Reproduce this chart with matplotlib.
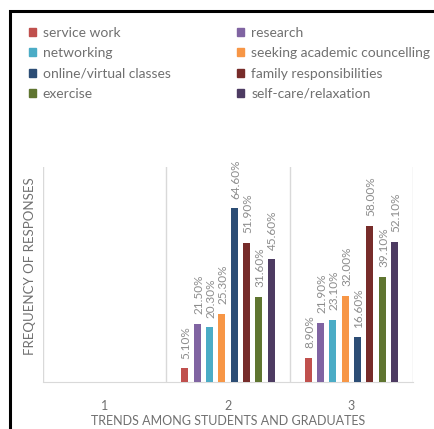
import matplotlib.pyplot as plt
from matplotlib.patches import Rectangle, Patch
import numpy as np

plt.rcParams['font.family'] = ['Lato', 'DejaVu Sans']

groups = ['1', '2', '3']
series = ['service work', 'research', 'networking', 'seeking academic councelling',
          'online/virtual classes', 'family responsibilities', 'exercise', 'self-care/relaxation']
colors = ['#C0504D', '#8064A2', '#4BACC6', '#F79646',
          '#2C4D75', '#772C2A', '#5F7530', '#4D3B62']
# values per series for groups 2 and 3 (group 1 empty)
values_g2 = [5.1, 21.5, 20.3, 25.3, 64.6, 51.9, 31.6, 45.6]
values_g3 = [8.9, 21.9, 23.1, 32.0, 16.6, 58.0, 39.1, 52.1]

gray = '#707070'

fig = plt.figure(figsize=(4.34, 4.29), dpi=100)
ax = fig.add_axes([43 / 434, 1 - 382 / 429, 370 / 434, 215 / 429])

pitch = 0.1
width = 0.057
x_groups = np.array([2, 3])
for i, name in enumerate(series):
    vals = [values_g2[i], values_g3[i]]
    xs = x_groups + (i - 3.5) * pitch
    bars = ax.bar(xs, vals, width=width, color=colors[i], label=name, zorder=3)
    for b, v in zip(bars, vals):
        ax.annotate(f'{v:.2f}%', (b.get_x() + b.get_width() / 2, v),
                    xytext=(1, 7), textcoords='offset points', rotation=90,
                    ha='center', va='bottom', fontsize=8.5, color='#8c8c8c')

ax.set_xlim(0.5, 3.5)
ax.set_ylim(0, 80)
ax.set_xticks([1, 2, 3])
ax.set_xticklabels(groups)
ax.set_yticks([])
for xv in [0.5, 1.5, 2.5, 3.5]:
    ax.axvline(xv, color='#d9d9d9', lw=1, zorder=1)
for s in ['top', 'right', 'left']:
    ax.spines[s].set_visible(False)
ax.spines['bottom'].set_color('#d9d9d9')
ax.tick_params(axis='x', length=0, pad=13, labelsize=9, labelcolor=gray)
ax.set_xlabel('TRENDS AMONG STUDENTS AND GRADUATES', fontsize=9, color=gray, labelpad=2)
ax.set_ylabel('FREQUENCY OF RESPONSES', fontsize=9.5, color=gray, labelpad=1)
ax.yaxis.set_label_coords(-0.02, 0.54)

# legend: rows follow series order, matplotlib fills column first
handles = [Patch(color=c) for c in colors]
order = [0, 2, 4, 6, 1, 3, 5, 7]
fig.legend([handles[k] for k in order], [series[k] for k in order], ncol=2,
           loc='upper left', bbox_to_anchor=(22 / 434, 1 - 20 / 429),
           frameon=False, fontsize=10, labelcolor=gray,
           handlelength=0.5, handleheight=0.5, handletextpad=0.5,
           labelspacing=0.6, columnspacing=4.8, borderpad=0)

# chart outer border (cropped at right/bottom)
fig.patches.append(Rectangle((10 / 434, -0.1), 1.2, 1 - 11 / 429 + 0.1,
                             transform=fig.transFigure, fill=False,
                             edgecolor='black', lw=2.2))

fig.savefig('out.png', dpi=100)
